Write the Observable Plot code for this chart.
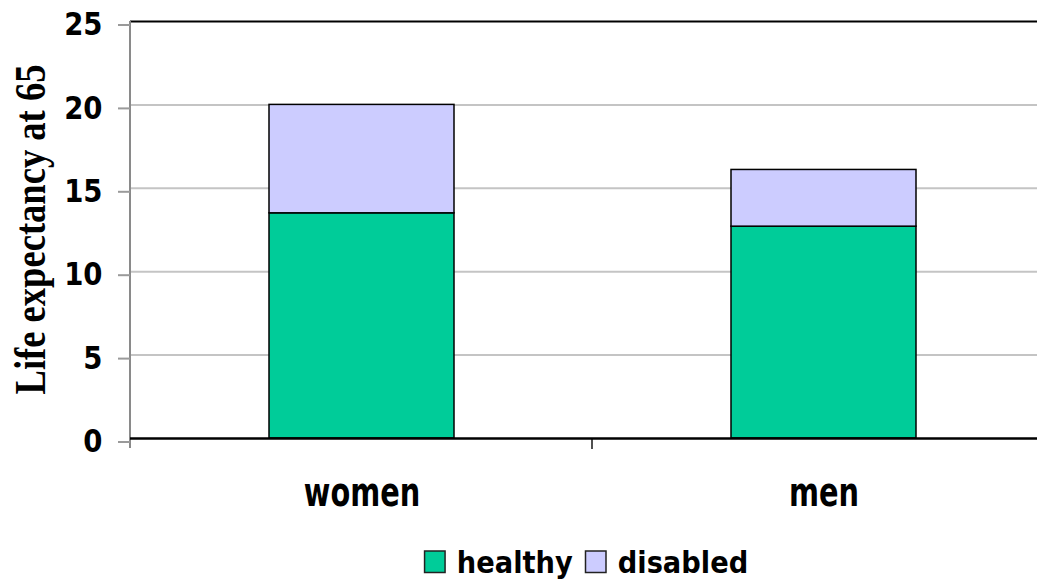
<!DOCTYPE html>
<html>
<head>
<meta charset="utf-8">
<script src="https://cdn.jsdelivr.net/npm/d3@7"></script>
<script src="https://cdn.jsdelivr.net/npm/@observablehq/plot@0.6"></script>
<style>
  html, body { margin: 0; padding: 0; background: #fff; }
  #wrap { width: 1037px; height: 580px; overflow: hidden; position: relative; }
  #chart svg { max-width: none !important; display: block; }
  #legend { position: absolute; left: 0; top: 520px; }
</style>
</head>
<body>
<div id="wrap">
  <div id="chart"></div>
  <svg id="legend" width="1037" height="60"></svg>
</div>
<script>
const categories = ["women", "men"];
const seriesNames = ["healthy", "disabled"];
const healthy = [13.5, 12.7];
const disabled = [6.5, 3.4];
const yTicks = [0, 5, 10, 15, 20, 25];
const colors = ["#00CC99", "#CCCCFF"];
const yTitle = "Life expectancy at 65";

const rows = [];
categories.forEach((c, i) => {
  rows.push({category: c, series: "healthy", value: healthy[i]});
  rows.push({category: c, series: "disabled", value: disabled[i]});
});

const W = 1054, H = 515, ML = 130, MR = 0, MT = 21, MB = 77;

const frameLines = (index, scales, values, dims) => {
  const g = d3.create("svg:g");
  const n = categories.length;
  const step = (dims.width - dims.marginLeft - dims.marginRight) / n;
  const y0 = dims.height - dims.marginBottom;
  g.append("line").attr("x1", dims.marginLeft).attr("x2", dims.marginLeft)
    .attr("y1", dims.marginTop).attr("y2", y0 + 10).attr("stroke", "#8a8a8a").attr("stroke-width", 2);
  for (let i = 1; i <= n; i++) {
    const x = dims.marginLeft + i * step;
    g.append("line").attr("x1", x).attr("x2", x).attr("y1", y0).attr("y2", y0 + 11)
      .attr("stroke", "#505050").attr("stroke-width", 2);
  }
  return g.node();
};

const titleMark = (index, scales, values, dims) => {
  const yMid = (dims.marginTop + dims.height - dims.marginBottom) / 2;
  const len = 330;
  const g = d3.create("svg:g");
  g.append("text")
    .attr("transform", `translate(45,${yMid + len / 2}) rotate(-90)`)
    .attr("text-anchor", "start")
    .attr("font-family", "Liberation Serif").attr("font-weight", "bold").attr("font-size", 45)
    .attr("fill", "#000")
    .attr("textLength", len).attr("lengthAdjust", "spacingAndGlyphs")
    .text(yTitle);
  return g.node();
};

const chart = Plot.plot({
  width: W, height: H,
  marginLeft: ML, marginRight: MR, marginTop: MT, marginBottom: MB,
  x: {domain: categories, padding: 0.6, paddingOuter: 0.3, label: null},
  y: {domain: [0, 25], label: null},
  color: {domain: seriesNames, range: colors},
  style: {background: "white", maxWidth: "none"},
  marks: [
    Plot.gridY([5, 10, 15, 20], {stroke: "#c4c4c4", strokeOpacity: 1, strokeWidth: 2}),
    Plot.barY(rows, {x: "category", y: "value", fill: "series", stroke: "#000", strokeWidth: 1.5, order: seriesNames}),
    Plot.ruleY([25], {stroke: "#000", strokeWidth: 2}),
    frameLines,
    Plot.ruleY([0], {stroke: "#000", strokeWidth: 2.5}),
    Plot.axisY(yTicks, {tickSize: 12, tickPadding: 16, stroke: "#9a9a9a", strokeWidth: 2, fill: "#000",
      fontSize: 32, fontWeight: "bold", fontFamily: "DejaVu Sans", dy: 3.5, label: null}),
    Plot.axisX({tickSize: 0, tickPadding: 39, fontSize: 40, fontWeight: "bold", fontFamily: "DejaVu Sans", fill: "#000", label: null}),
    titleMark
  ]
});
chart.style.maxWidth = "none";
document.getElementById("chart").appendChild(chart);

function squeeze(sel, ratio) {
  d3.select(chart).selectAll(sel).each(function() {
    const len = this.getComputedTextLength();
    this.setAttribute("textLength", len * ratio);
    this.setAttribute("lengthAdjust", "spacingAndGlyphs");
  });
}
squeeze('g[aria-label="y-axis tick label"] text', 0.86);
squeeze('g[aria-label="x-axis tick label"] text', 0.72);

// legend
const lg = d3.select("#legend");
const items = lg.append("g");
let xpos = 0;
seriesNames.forEach((s, i) => {
  const it = items.append("g").attr("transform", `translate(${xpos},0)`);
  it.append("rect").attr("x", 0.75).attr("y", 31).attr("width", 20.5).attr("height", 21.5)
    .attr("fill", colors[i]).attr("stroke", "#222").attr("stroke-width", 1.5);
  const t = it.append("text").attr("x", 33).attr("y", 52.5).text(s)
    .attr("font-family", "DejaVu Sans").attr("font-weight", "bold").attr("font-size", 31).attr("fill", "#000");
  const len = t.node().getComputedTextLength() * 0.88;
  t.attr("textLength", len).attr("lengthAdjust", "spacingAndGlyphs");
  xpos += 33 + len + 12;
});
const total = xpos - 12;
items.attr("transform", `translate(${586 - total / 2},0)`);
</script>
</body>
</html>
